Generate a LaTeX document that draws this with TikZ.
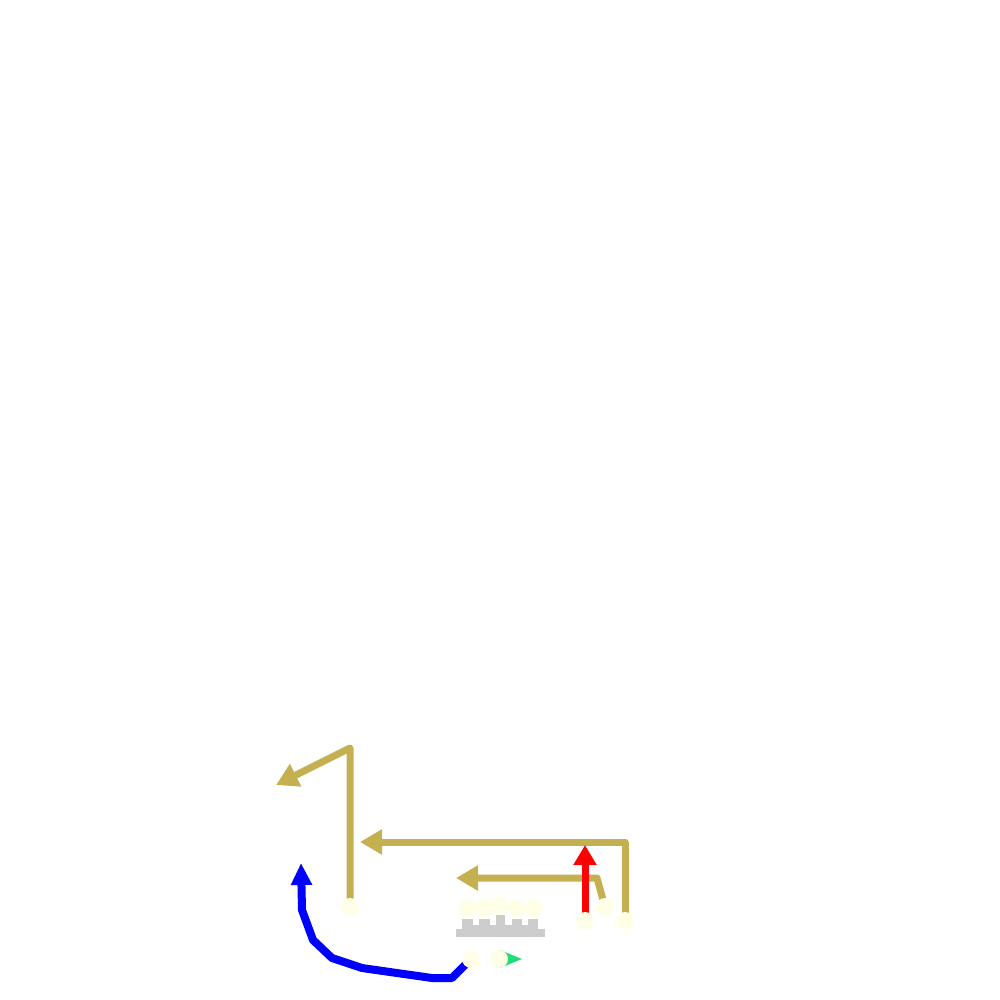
\documentclass[tikz,border=0pt]{standalone}
\usetikzlibrary{arrows.meta}
\definecolor{tan}{RGB}{196,176,80}
\definecolor{ivo}{RGB}{255,255,232}
\definecolor{grayc}{RGB}{204,204,204}
\definecolor{sgreen}{RGB}{34,221,119}
\pgfdeclarelayer{bg}
\pgfsetlayers{bg,main}
\begin{document}
\begin{tikzpicture}[x=1pt,y=-1pt,
  dot/.style={circle,fill=ivo,draw=none,minimum size=18pt,inner sep=0pt},
  tanline/.style={draw=tan,line width=7pt,line join=round,-{Triangle[length=22pt,width=24pt]}},
  redline/.style={draw=red,line width=7pt,-{Triangle[length=20pt,width=22pt]}},
  blueline/.style={draw=blue,line width=8pt,line join=round,-{Triangle[length=22pt,width=20pt]}}]
\useasboundingbox (0,0) rectangle (1000,1000);
% gray comb
\fill[grayc] (456,929) rectangle (545,937);
\foreach \a/\b/\t in {462/473/919,479/490/919,496/505/915,512/522/919,528/538/919}
  \fill[grayc] (\a,\t) rectangle (\b,930);
\fill[grayc] (473,925) rectangle (479,930);
\fill[grayc] (490,925) rectangle (496,930);
\fill[grayc] (505,925) rectangle (512,930);
\fill[grayc] (522,925) rectangle (528,930);
% green head (under the dot)
\fill[sgreen] (500,950) -- (522,959) -- (500,968) -- cycle;
% dots
\node[dot] (a) at (350,907) {};
\node[dot] (r) at (585,921) {};
\node[dot] (b) at (605,907) {};
\node[dot] (c) at (625,921) {};
\node[dot] (g1) at (467,908) {};
\node[dot] (g2) at (484,908) {};
\node[dot] (g3) at (500,906) {};
\node[dot] (g4) at (517,908) {};
\node[dot] (g5) at (534,908) {};
\node[dot] (d1) at (471,959) {};
\node[dot] (d2) at (499,959) {};
% free ends
\coordinate (ta) at (276,785);
\coordinate (tc) at (360,842);
\coordinate (tb) at (456,878);
\coordinate (tr) at (585,845);
\coordinate (tbl) at (301,863);
\begin{pgfonlayer}{bg}
\draw[tanline] (a.center) -- (350,748) -- (ta);
\draw[tanline] (c.center) -- (625,842) -- (tc);
\draw[tanline] (b.center) -- (597,878) -- (tb);
\draw[redline] (r.center) -- (tr);
\draw[blueline] (d1.center) -- (452,978) -- (432,978) -- (362,968) -- (332,958) -- (313,940) -- (302,910) -- (tbl);
\end{pgfonlayer}
\end{tikzpicture}
\end{document}
